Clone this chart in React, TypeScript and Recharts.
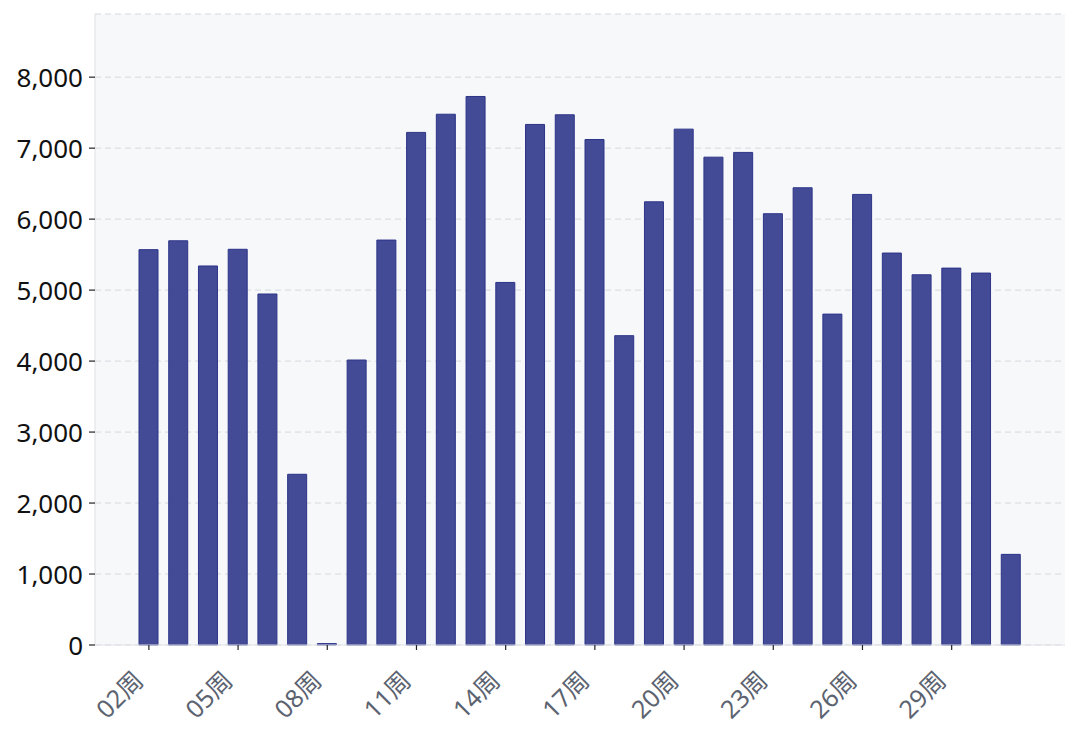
import React from 'react';
import { BarChart, Bar, XAxis, YAxis, CartesianGrid } from 'recharts';

const weeks = [
  '02周', '03周', '04周', '05周', '06周', '07周', '08周', '09周', '10周', '11周',
  '12周', '13周', '14周', '15周', '16周', '17周', '18周', '19周', '20周', '21周',
  '22周', '23周', '24周', '25周', '26周', '27周', '28周', '29周', '30周', '31周',
];
const values = [
  5570, 5695, 5340, 5575, 4945, 2405, 20, 4015, 5705, 7222,
  7478, 7728, 5108, 7334, 7470, 7122, 4358, 6244, 7268, 6873,
  6940, 6076, 6442, 4662, 6348, 5522, 5216, 5310, 5240, 1277,
];
const yTicks = [0, 1000, 2000, 3000, 4000, 5000, 6000, 7000, 8000];
const yMax = 8890;

const data = weeks.map((w, i) => ({ week: w, value: values[i] }));

const fmt = (v: number) => v.toLocaleString('en-US');

const XTick = (props: any) => {
  const { x, y, payload } = props;
  return (
    <g transform={`translate(${x - 4},${y + 30})`}>
      <text
        x={0}
        y={0}
        textAnchor="end"
        transform="rotate(-45)"
        fill="#5c6370"
        fontSize={25}
        fontFamily="'Noto Sans', 'Noto Sans CJK SC', sans-serif"
      >
        {payload.value}
      </text>
    </g>
  );
};

export default function App() {
  return (
    <div style={{ position: 'absolute', left: 0, top: 0, width: 1080, height: 734, background: '#ffffff' }}>
      <BarChart
        width={1080}
        height={734}
        data={data}
        margin={{ top: 14, right: 15, bottom: 0, left: 0 }}
        barCategoryGap={0}
      >
        <CartesianGrid
          vertical={false}
          fill="#f6f8fa"
          stroke="#d6d9de"
          strokeDasharray="6 4"
        />
        <XAxis
          dataKey="week"
          interval={2}
          height={89}
          padding={{ left: 39, right: 39 }}
          axisLine={{ stroke: '#dfe2e6', strokeWidth: 1.2 }}
          tickLine={{ stroke: '#222222', strokeWidth: 1.2 }}
          tickSize={5}
          tickMargin={2}
          tick={<XTick />}
        />
        <YAxis
          width={95}
          domain={[0, yMax]}
          ticks={yTicks}
          interval={0}
          tickFormatter={fmt}
          axisLine={{ stroke: '#e2e4e8', strokeWidth: 1.2 }}
          tickLine={{ stroke: '#222222', strokeWidth: 1.2 }}
          tickSize={6}
          tickMargin={6}
          tick={{ fill: '#111111', fontSize: 26, dy: 1, fontFamily: "'Noto Sans', sans-serif" }}
        />
        <Bar
          dataKey="value"
          barSize={19}
          fill="#434b96"
          stroke="#2d3488"
          strokeWidth={1}
          isAnimationActive={false}
        />
      </BarChart>
    </div>
  );
}
